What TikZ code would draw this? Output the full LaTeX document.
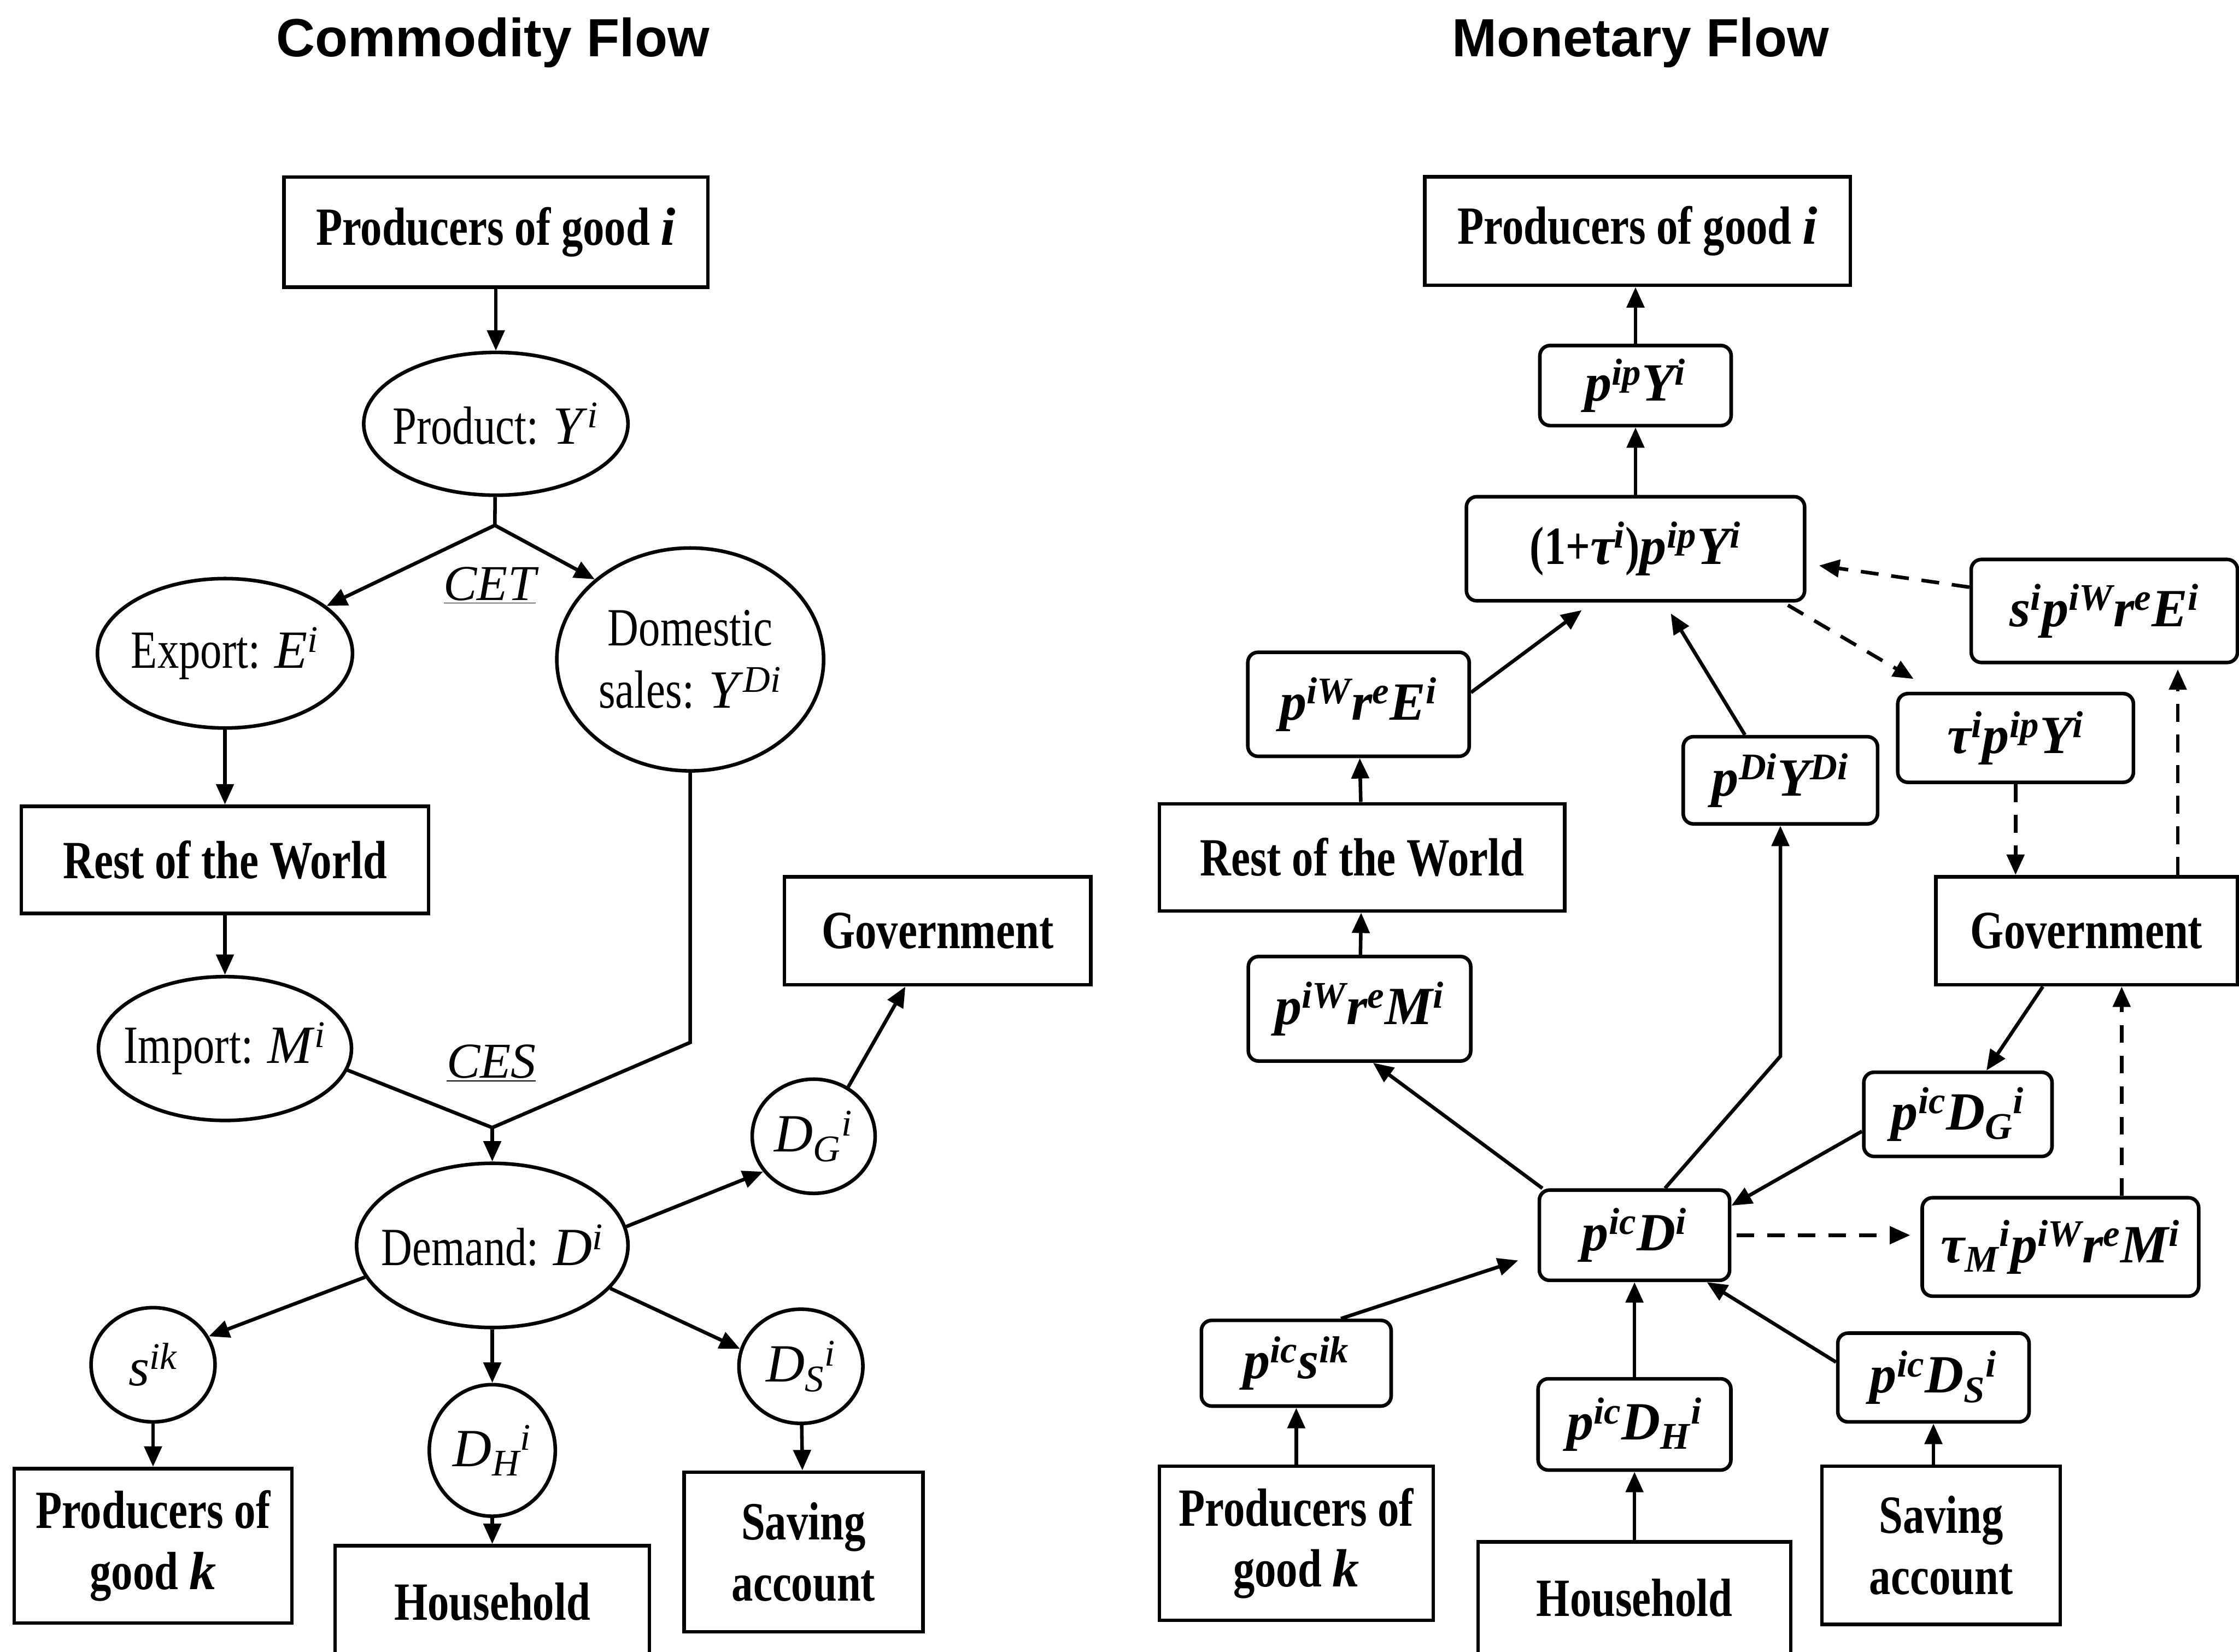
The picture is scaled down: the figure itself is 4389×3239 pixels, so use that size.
\documentclass[tikz,border=0pt]{standalone}
\usepackage{fontspec}
\setmainfont{Liberation Serif}[UprightFeatures={FakeStretch=0.8},BoldFeatures={FakeStretch=0.8}]
\newfontfamily\titlefont{Liberation Sans}
\usetikzlibrary{arrows.meta,shapes.geometric,calc}

\newcommand{\iv}[1]{\textit{#1}}
\newcommand{\sps}[1]{\textsuperscript{\itshape #1}}
\newcommand{\sbs}[1]{\textsubscript{\itshape #1}}

\tikzset{
  box/.style={draw,rectangle,line width=2pt,inner sep=0pt,align=center,font=\bfseries\fontsize{30}{34}\selectfont},
  state/.style={draw,ellipse,line width=2pt,inner sep=0pt,inner xsep=-3mm,align=center,font=\fontsize{30}{35}\selectfont},
  pay/.style={draw,rectangle,rounded corners=2mm,line width=2pt,inner sep=0pt,font=\bfseries\itshape\fontsize{30}{34}\selectfont},
  tag/.style={font=\itshape\fontsize{28}{30}\selectfont},
  dashflow/.style={->,dash pattern=on 3.5mm off 2.5mm}
}

\begin{document}
\begin{tikzpicture}[x=0.1mm,y=-0.1mm,->,>={Triangle[length=4mm,width=3.4mm]},line width=2pt]
  \clip (0,0) rectangle (4389,3239);
  \fill[white] (0,0) rectangle (4389,3239);

  % titles
  \node[font=\titlefont\bfseries\fontsize{30}{34}\selectfont] (tl) at (966,84)  {Commodity Flow};
  \node[font=\titlefont\bfseries\fontsize{30}{34}\selectfont] (tr) at (3216,84) {Monetary Flow};

  % commodity flow
  \node[box,minimum width=83.1mm,minimum height=21.6mm]   (prodI)  at (972,455)   {Producers of good \iv{i}};
  \node[state,minimum width=51.8mm,minimum height=28mm]   (prod)   at (972,831)   {Product: \iv{Y}\sps{i}};
  \coordinate                                             (cet)    at (970,1030);
  \node[state,minimum width=50mm,minimum height=29.3mm]   (exp)    at (441,1281)  {Export: \iv{E}\sps{i}};
  \node[state,minimum width=52.3mm,minimum height=43.7mm] (dom)    at (1353,1293) {Domestic\\sales: \iv{Y}\sps{Di}};
  \node[tag]                                              (cetl)   at (960,1148)  {\underline{CET}};
  \node[box,minimum width=79.8mm,minimum height=21mm]     (rowL)   at (441,1686)  {Rest of the World};
  \node[state,minimum width=49.6mm,minimum height=28.2mm] (imp)    at (441,2056)  {Import: \iv{M}\sps{i}};
  \node[tag]                                              (cesl)   at (963,2085)  {\underline{CES}};
  \coordinate                                             (ces)    at (965,2211);
  \coordinate                                             (dbend)  at (1353,2044);
  \node[state,minimum width=53.2mm,minimum height=32.2mm] (dem)    at (965,2442)  {Demand: \iv{D}\sps{i}};
  \node[box,minimum width=60.1mm,minimum height=21.2mm]   (govL)   at (1838,1825) {Government};
  \node[state,minimum width=24.1mm,minimum height=22.4mm] (dG)     at (1595,2228) {\iv{D}\sbs{G}\sps{i}};
  \node[state,minimum width=24.3mm,minimum height=22.4mm] (sik)    at (300,2676)  {\iv{s}\sps{ik}};
  \node[state,minimum width=24.7mm,minimum height=25.8mm] (dH)     at (965,2844)  {\iv{D}\sbs{H}\sps{i}};
  \node[state,minimum width=24.3mm,minimum height=22.4mm] (dS)     at (1570,2679) {\iv{D}\sbs{S}\sps{i}};
  \node[box,minimum width=54.4mm,minimum height=30.3mm]   (prodK)  at (300,3031)  {Producers of\\good \iv{k}};
  \node[box,minimum width=61.6mm,minimum height=22mm]     (houseL) at (965,3141)  {Household};
  \node[box,minimum width=46.8mm,minimum height=31.3mm]   (saveL)  at (1575,3043) {Saving\\account};

  \path (prodI)  edge (prod);
  \draw[-] (prod) -- (cet);
  \path (cet)    edge (exp.25)
                 edge (dom.140)
        (exp)    edge (rowL)
        (rowL)   edge (imp);
  \draw[-] (dom.south) -- (dbend) -- (ces);
  \draw[-] (imp.-10) -- (ces);
  \path (ces)    edge (dem)
        (dem.8)  edge (dG.215)
        (dG.55)  edge (govL.-120)
        (dem.194) edge (sik.27)
        (dem)    edge (dH)
        (dem.340) edge (dS.164)
        (sik)    edge (prodK)
        (dH)     edge (houseL)
        (dS)     edge (saveL);

  % monetary flow
  \node[box,minimum width=83.4mm,minimum height=21.3mm]   (prodIR) at (3210,453)  {Producers of good \iv{i}};
  \node[pay,minimum width=37.5mm,minimum height=15.7mm]   (pipY)   at (3206,756)  {p\sps{ip}Y\sps{i}};
  \node[pay,minimum width=66.3mm,minimum height=20.4mm]   (tauY)   at (3206,1076) {\textup{(1+}τ\sps{i}\textup{)}p\sps{ip}Y\sps{i}};
  \node[pay,minimum width=52.2mm,minimum height=20.2mm]   (sE)     at (4125,1198) {s\sps{i}p\sps{iW}r\sps{e}E\sps{i}};
  \node[pay,minimum width=46.2mm,minimum height=17.4mm]   (tpY)    at (3951,1447) {τ\sps{i}p\sps{ip}Y\sps{i}};
  \node[pay,minimum width=43.4mm,minimum height=20.4mm]   (pWE)    at (2663,1381) {p\sps{iW}r\sps{e}E\sps{i}};
  \node[pay,minimum width=38.1mm,minimum height=17.1mm]   (pDY)    at (3490,1530) {p\sps{Di}Y\sps{Di}};
  \node[box,minimum width=79.5mm,minimum height=21mm]     (rowR)   at (2670,1681) {Rest of the World};
  \node[box,minimum width=59.1mm,minimum height=21.2mm]   (govR)   at (4090,1825) {Government};
  \node[pay,minimum width=43.6mm,minimum height=20.5mm]   (pWM)    at (2665,1978) {p\sps{iW}r\sps{e}M\sps{i}};
  \node[pay,minimum width=36.9mm,minimum height=16.5mm]   (pDG)    at (3838,2185) {p\sps{ic}D\sbs{G}\sps{i}};
  \node[pay,minimum width=37.3mm,minimum height=17.7mm]   (pD)     at (3204,2422) {p\sps{ic}D\sps{i}};
  \node[pay,minimum width=54.2mm,minimum height=19.3mm]   (tMM)    at (4039,2445) {τ\sbs{M}\sps{i}p\sps{iW}r\sps{e}M\sps{i}};
  \node[pay,minimum width=37.2mm,minimum height=16.8mm]   (psk)    at (2541,2673) {p\sps{ic}s\sps{ik}};
  \node[pay,minimum width=37.8mm,minimum height=17.9mm]   (pDH)    at (3204,2793) {p\sps{ic}D\sbs{H}\sps{i}};
  \node[pay,minimum width=37.5mm,minimum height=17.4mm]   (pDS)    at (3790,2701) {p\sps{ic}D\sbs{S}\sps{i}};
  \node[box,minimum width=53.7mm,minimum height=30.2mm]   (prodKR) at (2541,3026) {Producers of\\good \iv{k}};
  \node[box,minimum width=61.3mm,minimum height=22mm]     (houseR) at (3204,3133) {Household};
  \node[box,minimum width=46.7mm,minimum height=31mm]     (saveR)  at (3805,3030) {Saving\\account};
  \coordinate                                             (ybend)  at (3490,2071);

  \path (pipY.north) edge (pipY.north |- prodIR.south)
        (tauY)   edge (pipY)
        (pWE.6)  edge[shorten >=2.5mm] (tauY.-129)
        (pDY.128) edge[shorten >=2.5mm] (tauY.-62)
        (rowR)   edge (pWE)
        (pWM)    edge (rowR)
        (pD.153) edge (pWM.-76)
        (govR.-128) edge (pDG.57)
        (pDG.190) edge (pD.17)
        (psk.45) edge[shorten >=4mm] (pD.191)
        (prodKR) edge (psk)
        (pDH)    edge (pD)
        (houseR) edge (pDH)
        (pDS.171) edge (pD.-33)
        (saveR.north -| pDS.south) edge (pDS.south);
  \draw (pD.57) -- (ybend) -- (pDY.south);

  \draw[dashflow,shorten >=2.5mm] (sE.170) -- (tauY.-5);
  \draw[dashflow,shorten <=1mm,shorten >=5mm] (tauY.-20) -- (tpY.150);
  \draw[dashflow] (tpY.south) -- (tpY.south |- govR.north);
  \draw[dashflow,shorten >=1mm] ([xshift=17.9mm]govR.north) -- ([xshift=17.9mm]govR.north |- sE.south);
  \draw[dashflow,shorten <=1mm,shorten >=2mm] (pD.east) -- (pD.east -| tMM.west);
  \draw[dashflow] ([xshift=12mm]tMM.north) -- ([xshift=12mm]tMM.north |- govR.south);
\end{tikzpicture}
\end{document}
